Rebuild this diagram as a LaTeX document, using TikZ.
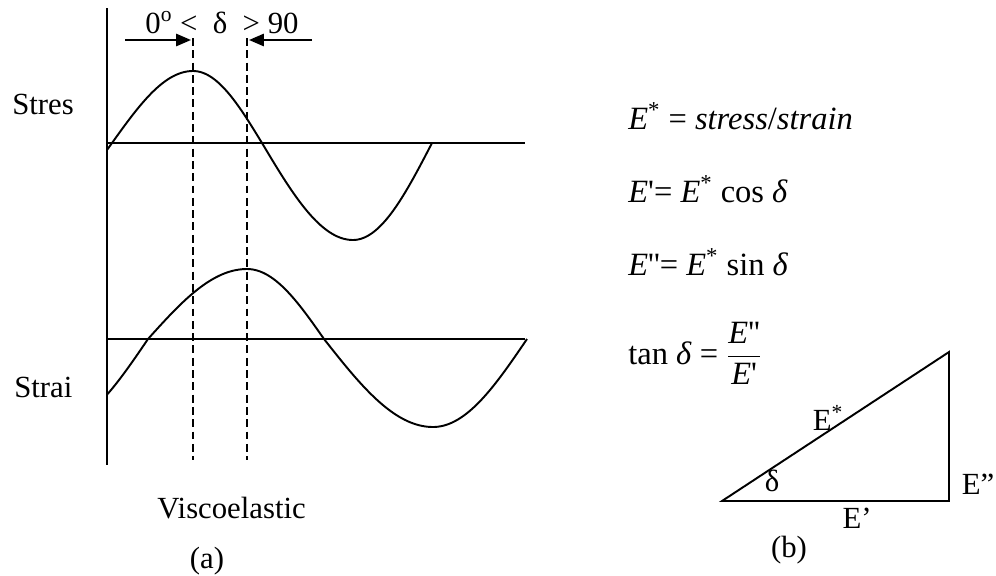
\documentclass[tikz,border=0pt]{standalone}
\usepackage{fontspec}
\setmainfont{Liberation Serif}
\usetikzlibrary{arrows.meta}

\begin{document}
\begin{tikzpicture}[
    x=0.02cm, y=-0.02cm,
    % text
    lbl/.style={inner sep=0pt, font=\fontsize{17.5}{21}\selectfont},
    eqn/.style={inner sep=0pt, anchor=base west, font=\fontsize{18.5}{22}\selectfont},
    % lines
    axis/.style={line width=1.1pt},
    wave/.style={line width=1.1pt, line join=round},
    guide/.style={line width=0.9pt, dash pattern=on 4.5pt off 2.5pt},
    arr/.style={line width=1.1pt, -{Triangle[length=8.5pt, width=7pt]}},
]
\useasboundingbox (0,0) rectangle (996,575);

%% -- axes of panel (a) --
\coordinate (top)  at (107,8);
\coordinate (bot)  at (107,465);
\coordinate (s0)   at (107,143);
\coordinate (s1)   at (525,143);
\coordinate (e0)   at (107,339);
\coordinate (e1)   at (525,339);
\draw[axis] (top) -- (bot);
\draw[axis] (s0) -- (s1);
\draw[axis] (e0) -- (e1);

%% -- stress curve (quarter waves, peak at 193) --
\draw[wave] plot[domain=107:193, samples=40, smooth]
    (\x, {143-72*sin(90*(\x-112)/81)})
    -- plot[domain=193:262, samples=30, smooth]
    (\x, {143-72*cos(90*(\x-193)/69)})
    -- plot[domain=262:353, samples=40, smooth]
    (\x, {143+97*sin(90*(\x-262)/91)})
    -- plot[domain=353:432, samples=30, smooth]
    (\x, {143+97*cos(90*(\x-353)/79)});

%% -- strain curve (peak at 247) --
\draw[wave] plot[domain=107:148, samples=20, smooth]
    (\x, {339+88*sin(90*(148-\x)/94)})
    -- plot[domain=148:247, samples=40, smooth]
    (\x, {339-70*sin(90*(\x-148)/99)})
    -- plot[domain=247:324, samples=30, smooth]
    (\x, {339-70*cos(90*(\x-247)/77)})
    -- plot[domain=324:433, samples=40, smooth]
    (\x, {339+88*sin(90*(\x-324)/109)})
    -- plot[domain=433:527, samples=40, smooth]
    (\x, {339+88*cos(90*(\x-433)/94)});

%% -- peak markers --
\coordinate (p1a) at (193,38);
\coordinate (p1b) at (193,460);
\coordinate (p2a) at (247,38);
\coordinate (p2b) at (247,460);
\draw[guide] (p1a) -- (p1b);
\draw[guide] (p2a) -- (p2b);

\coordinate (la) at (125,40);
\coordinate (lb) at (191,40);
\coordinate (ra) at (312,40);
\coordinate (rb) at (249,40);
\draw[arr] (la) -- (lb);
\draw[arr] (ra) -- (rb);
\node[lbl, anchor=base] (lag) at (222,33) {0\textsuperscript{o} <\ \ δ\ \ > 90};

%% -- labels of panel (a) --
\node[lbl, anchor=base west] (stress) at (12,114) {Stres};
\node[lbl, anchor=base west] (strain) at (14,397) {Strai};
\node[lbl, anchor=base west] (visco) at (157,518) {Viscoelastic};
\node[lbl, anchor=base] (capa)  at (207,568) {(a)};

%% -- relations of panel (b) --
\node[eqn] (emod) at (628,129) {\textit{E}\textsuperscript{*} = \textit{stress}/\textit{strain}};
\node[eqn] (eone) at (628,202) {\textit{E}\textquotesingle= \textit{E}\textsuperscript{*} cos \textit{δ}};
\node[eqn] (etwo) at (628,275) {\textit{E}\textquotesingle\textquotesingle= \textit{E}\textsuperscript{*} sin \textit{δ}};
\node[eqn] (etan) at (628,364) {tan \textit{δ} =
    $\displaystyle\frac{\mbox{\textit{E}\textquotesingle\textquotesingle}}{\mbox{\textit{E}\textquotesingle}}$};

%% -- phase triangle --
\coordinate (ta) at (722,501);
\coordinate (tb) at (949,501);
\coordinate (tc) at (949,352);
\draw[axis, line join=miter] (ta) -- (tb) -- (tc) -- cycle;
\node[lbl] (tstar) at (828,418) {E\textsuperscript{*}};
\node[lbl] (tdel)  at (772,481) {δ};
\node[lbl] (tloss) at (978,484) {E”};
\node[lbl] (tstor) at (857,518) {E’};
\node[lbl] (capb)  at (789,550) {(b)};

\end{tikzpicture}
\end{document}
